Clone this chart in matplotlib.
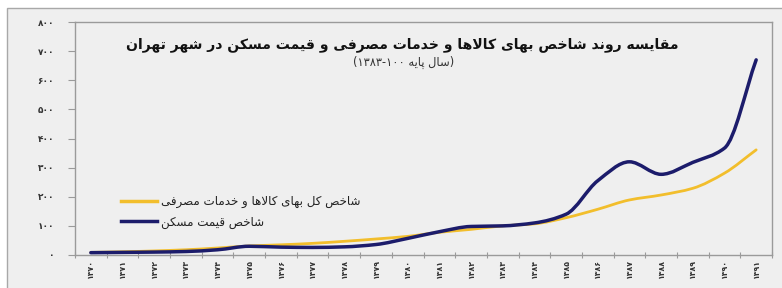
import matplotlib
matplotlib.use("Agg")
import matplotlib.pyplot as plt
import numpy as np
from matplotlib.path import Path
from matplotlib.patches import PathPatch, Rectangle
from matplotlib.lines import Line2D

# ---------------- data ----------------
years = list(range(1370, 1392))
cpi = [9, 11, 14, 18, 24, 31, 35, 40, 47, 55, 64, 78, 88, 100, 107, 128, 157, 189, 206, 229, 281, 361]
housing = [8, 9, 10, 12, 18, 30, 27, 26, 28, 36, 57, 80, 98, 100, 110, 140, 255, 320, 277, 318, 367, 670]
yticks = [0, 100, 200, 300, 400, 500, 600, 700, 800]

title_txt = "مقایسه روند شاخص بهای کالاها و خدمات مصرفی و قیمت مسکن در شهر تهران"
subtitle_words = "سال پایه"
legend_cpi = "شاخص کل بهای کالاها و خدمات مصرفی"
legend_house = "شاخص قیمت مسکن"

# ---------------- minimal Persian shaping ----------------
FORMS = {
    'ا': (0xFE8D, 0xFE8E, None, None),
    'ب': (0xFE8F, 0xFE90, 0xFE91, 0xFE92),
    'پ': (0xFB56, 0xFB57, 0xFB58, 0xFB59),
    'ت': (0xFE95, 0xFE96, 0xFE97, 0xFE98),
    'خ': (0xFEA5, 0xFEA6, 0xFEA7, 0xFEA8),
    'د': (0xFEA9, 0xFEAA, None, None),
    'ر': (0xFEAD, 0xFEAE, None, None),
    'س': (0xFEB1, 0xFEB2, 0xFEB3, 0xFEB4),
    'ش': (0xFEB5, 0xFEB6, 0xFEB7, 0xFEB8),
    'ص': (0xFEB9, 0xFEBA, 0xFEBB, 0xFEBC),
    'ف': (0xFED1, 0xFED2, 0xFED3, 0xFED4),
    'ق': (0xFED5, 0xFED6, 0xFED7, 0xFED8),
    'ک': (0xFB8E, 0xFB8F, 0xFB90, 0xFB91),
    'ل': (0xFEDD, 0xFEDE, 0xFEDF, 0xFEE0),
    'م': (0xFEE1, 0xFEE2, 0xFEE3, 0xFEE4),
    'ن': (0xFEE5, 0xFEE6, 0xFEE7, 0xFEE8),
    'ه': (0xFEE9, 0xFEEA, 0xFEEB, 0xFEEC),
    'و': (0xFEED, 0xFEEE, None, None),
    'ی': (0xFBFC, 0xFBFD, 0xFBFE, 0xFBFF),
}


def dual(c):
    return c in FORMS and FORMS[c][2] is not None


def shape_word(w):
    out = []
    i = 0
    n = len(w)
    prev_joins = False
    while i < n:
        c = w[i]
        if c == 'ل' and i + 1 < n and w[i + 1] == 'ا':
            out.append(chr(0xFEFC if prev_joins else 0xFEFB))
            prev_joins = False
            i += 2
            continue
        if c not in FORMS:
            out.append(c)
            prev_joins = False
            i += 1
            continue
        nxt = w[i + 1] if i + 1 < n else None
        jn = dual(c) and nxt is not None and nxt in FORMS
        iso, fin, ini, med = FORMS[c]
        if prev_joins and jn:
            g = med
        elif prev_joins:
            g = fin
        elif jn:
            g = ini
        else:
            g = iso
        out.append(chr(g))
        prev_joins = dual(c)
        i += 1
    return ''.join(out)


def rtl(text):
    words = [shape_word(w) for w in text.split(' ')]
    return ' '.join(w[::-1] for w in words[::-1])


def fa_digits(s):
    return ''.join('۰۱۲۳۴۵۶۷۸۹'[int(ch)] if ch.isdigit() else ch for ch in str(s))


# ---------------- figure ----------------
W, H = 782, 288
fig = plt.figure(figsize=(W / 100, H / 100), dpi=100)
fig.patch.set_facecolor('white')
fig.patches.append(Rectangle((7 / W, -0.05), 1.0, 1 - 8 / H + 0.05, transform=fig.transFigure,
                             facecolor='#EFEFEF', edgecolor='#A8A8A8', linewidth=1.0, zorder=-5))

ax = fig.add_axes([75 / W, (H - 255) / H, (772 - 75) / W, (255 - 22) / H])
ax.set_zorder(2)
ax.set_facecolor('#EFEFEF')
for s in ax.spines.values():
    s.set_color('#9A9A9A')
    s.set_linewidth(1.0)

x = np.arange(len(years))


def smooth_path(xs, ys):
    """Shape-preserving cubic (PCHIP-style tangents) drawn as Bezier segments."""
    xs = np.asarray(xs, float)
    ys = np.asarray(ys, float)
    n = len(xs)
    h = np.diff(xs)
    d = np.diff(ys) / h
    m = np.zeros(n)
    m[0], m[-1] = d[0], d[-1]
    for k in range(1, n - 1):
        if d[k - 1] * d[k] <= 0:
            m[k] = 0.0
        else:
            m[k] = 2.0 / (1.0 / d[k - 1] + 1.0 / d[k])
    verts = [(xs[0], ys[0])]
    codes = [Path.MOVETO]
    for k in range(n - 1):
        verts.append((xs[k] + h[k] / 3, ys[k] + m[k] * h[k] / 3))
        verts.append((xs[k + 1] - h[k] / 3, ys[k + 1] - m[k + 1] * h[k] / 3))
        verts.append((xs[k + 1], ys[k + 1]))
        codes += [Path.CURVE4] * 3
    return Path(verts, codes)


yellow = '#F2BE2C'
navy = '#1C1C6B'
ax.add_patch(PathPatch(smooth_path(x, cpi), fill=False, edgecolor=yellow, linewidth=2.0,
                       capstyle='round', zorder=3))
ax.add_patch(PathPatch(smooth_path(x, housing), fill=False, edgecolor=navy, linewidth=2.5,
                       capstyle='round', zorder=4))

ax.set_xlim(-0.5, len(years) - 0.5)
ax.set_ylim(0, 800)

ax.set_yticks(yticks)
ax.set_yticklabels([fa_digits(v) for v in yticks], fontsize=6.5, color='#333333', fontweight='bold')
ax.tick_params(axis='y', length=5, color='#9A9A9A', pad=10)

ax.set_xticks(np.arange(len(years) + 1) - 0.5)
ax.set_xticklabels([])
ax.tick_params(axis='x', which='major', length=4, direction='inout', color='#9A9A9A')
ax.set_xticks(x, minor=True)
ax.set_xticklabels([fa_digits(y) for y in years], minor=True, rotation=90, fontsize=5.6,
                   color='#333333', fontweight='bold')
ax.tick_params(axis='x', which='minor', length=0, pad=3)

fig.text(402 / W, 1 - 45 / H, rtl(title_txt), ha='center', va='center', fontsize=10.1,
         fontweight='bold', color='#111111')
sub = '(' + fa_digits('1383') + '-' + fa_digits('100') + ' ' + rtl(subtitle_words) + ')'
fig.text(404 / W, 1 - 62 / H, sub, ha='center', va='center', fontsize=8.3, color='#333333')

handles = [Line2D([], [], color=yellow, linewidth=2.5), Line2D([], [], color=navy, linewidth=2.5)]
ax.legend(handles, [rtl(legend_cpi), rtl(legend_house)], loc='upper left',
          bbox_to_anchor=((110 - 75) / 697, (255 - 184) / 233), frameon=False, fontsize=8.6,
          handlelength=3.0, labelspacing=0.65, handletextpad=0.4, labelcolor='#222222')

fig.savefig('out.png', dpi=100, facecolor=fig.get_facecolor())
